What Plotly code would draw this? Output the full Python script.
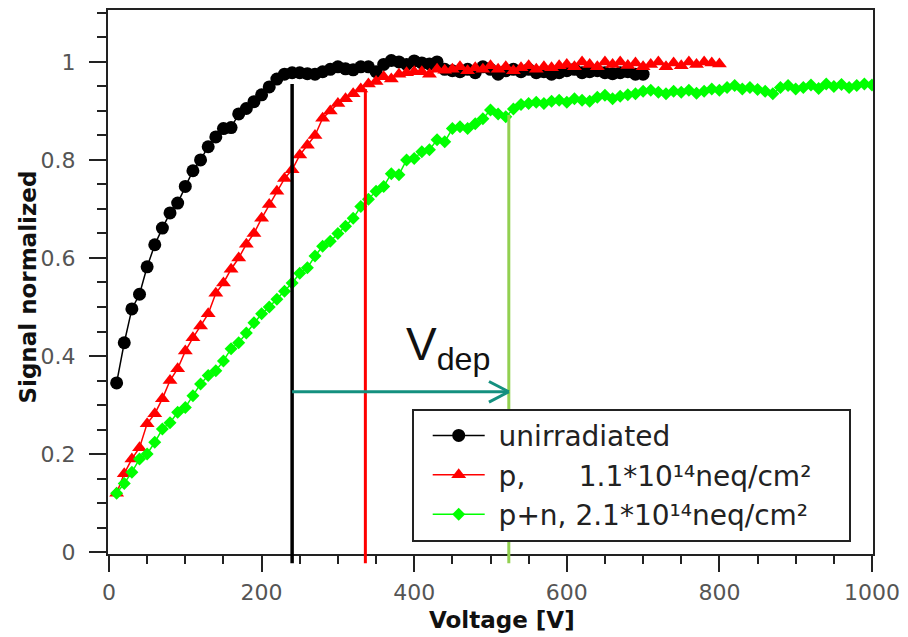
import plotly.graph_objects as go

# ---------------- data ----------------
volt_unirr = list(range(10, 701, 10))
sig_unirr = [0.345, 0.427, 0.496, 0.526, 0.582, 0.627, 0.661, 0.692, 0.712, 0.746,
             0.778, 0.800, 0.827, 0.847, 0.864, 0.866, 0.894, 0.905, 0.919, 0.933,
             0.949, 0.965, 0.975, 0.978, 0.978, 0.976, 0.975, 0.980, 0.985, 0.990,
             0.986, 0.984, 0.990, 0.990, 0.980, 0.995, 1.003, 1.000, 0.995, 1.002,
             0.998, 0.996, 1.000, 0.985, 0.982, 0.980, 0.985, 0.978, 0.990, 0.985,
             0.975, 0.982, 0.985, 0.980, 0.985, 0.978, 0.980, 0.975, 0.978, 0.982,
             0.985, 0.978, 0.980, 0.982, 0.978, 0.976, 0.978, 0.980, 0.975, 0.975]

volt_p = list(range(10, 801, 10))
sig_p = [0.120, 0.160, 0.190, 0.213, 0.262, 0.282, 0.313, 0.350, 0.374, 0.410,
         0.437, 0.461, 0.486, 0.528, 0.549, 0.577, 0.600, 0.628, 0.650, 0.681,
         0.709, 0.736, 0.762, 0.780, 0.810, 0.830, 0.850, 0.885, 0.900, 0.915,
         0.925, 0.935, 0.945, 0.955, 0.960, 0.970, 0.965, 0.975, 0.978, 0.980,
         0.980, 0.975, 0.985, 0.983, 0.985, 0.990, 0.982, 0.988, 0.985, 0.992,
         0.985, 0.990, 0.982, 0.988, 0.992, 0.985, 0.990, 0.988, 0.992, 0.995,
         0.990, 1.000, 0.995, 0.990, 1.000, 0.995, 1.000, 0.993, 0.998, 0.990,
         0.995, 1.000, 0.990, 0.998, 0.992, 1.000, 0.995, 1.000, 0.998, 0.996]

volt_pn = list(range(10, 1001, 10))
sig_pn = [0.120, 0.140, 0.163, 0.190, 0.200, 0.224, 0.251, 0.264, 0.285, 0.295,
          0.319, 0.343, 0.360, 0.370, 0.390, 0.415, 0.427, 0.447, 0.468, 0.486,
          0.500, 0.516, 0.532, 0.549, 0.569, 0.580, 0.604, 0.624, 0.634, 0.650,
          0.665, 0.681, 0.705, 0.720, 0.736, 0.746, 0.772, 0.770, 0.800, 0.803,
          0.817, 0.821, 0.841, 0.837, 0.864, 0.868, 0.864, 0.874, 0.884, 0.902,
          0.894, 0.888, 0.904, 0.913, 0.915, 0.918, 0.915, 0.920, 0.922, 0.918,
          0.925, 0.922, 0.920, 0.928, 0.932, 0.925, 0.930, 0.933, 0.935, 0.940,
          0.942, 0.938, 0.935, 0.940, 0.938, 0.942, 0.936, 0.940, 0.945, 0.942,
          0.948, 0.952, 0.945, 0.948, 0.944, 0.940, 0.935, 0.948, 0.952, 0.945,
          0.948, 0.953, 0.946, 0.955, 0.950, 0.954, 0.948, 0.952, 0.955, 0.953]

NB = "\u00a0"
series_names = [NB + "unirradiated",
                NB + "p," + NB * 6 + "1.1*10\u00b9\u2074neq/cm\u00b2",
                NB + "p+n, 2.1*10\u00b9\u2074neq/cm\u00b2" + NB * 4]

# depletion voltages [V] and heights of the marker lines
vdep_volts = [240, 336, 524]
vdep_tops = [0.955, 0.945, 0.892]
vdep_colors = ["#000000", "#ff0000", "#92d050"]
arrow_level = 0.327

x_range = [-1.3, 1001.3]
y_range = [-0.004, 1.106]

# ---------------- figure ----------------
fig = go.Figure()
fig.add_trace(go.Scatter(x=volt_unirr, y=sig_unirr, mode="lines+markers", name=series_names[0],
                         line=dict(color="black", width=1.5),
                         marker=dict(symbol="circle", size=13, color="black")))
fig.add_trace(go.Scatter(x=volt_p, y=sig_p, mode="lines+markers", name=series_names[1],
                         line=dict(color="#ff0000", width=1.5),
                         marker=dict(symbol="triangle-up", size=13, color="#ff0000")))
fig.add_trace(go.Scatter(x=volt_pn, y=sig_pn, mode="lines+markers", name=series_names[2],
                         line=dict(color="#00ff00", width=1.5),
                         marker=dict(symbol="diamond", size=10, color="#00ff00")))

def to_paper(v):
    return (v - y_range[0]) / (y_range[1] - y_range[0])

shapes = []
for v, top, c in zip(vdep_volts, vdep_tops, vdep_colors):
    shapes.append(dict(type="line", xref="x", yref="paper", x0=v, x1=v,
                       y0=-0.017, y1=to_paper(top),
                       line=dict(color=c, width=3.5 if c == "#000000" else 3)))
teal = "#14907f"
shapes.append(dict(type="line", xref="x", yref="y", x0=vdep_volts[0], x1=vdep_volts[2],
                   y0=arrow_level, y1=arrow_level, line=dict(color=teal, width=3)))
for dy in (0.021, -0.021):
    shapes.append(dict(type="line", xref="x", yref="y", x0=vdep_volts[2] - 26, x1=vdep_volts[2],
                       y0=arrow_level + dy, y1=arrow_level, line=dict(color=teal, width=3)))

axis_common = dict(showline=True, linecolor="#222", linewidth=2, mirror=True,
                   ticks="outside", tickcolor="#222", tickwidth=2, showgrid=False,
                   zeroline=False,
                   tickfont=dict(family="DejaVu Sans", size=22, color="#555"))

fig.update_layout(
    width=908, height=637,
    margin=dict(l=108, r=30, t=8, b=83),
    paper_bgcolor="white", plot_bgcolor="white",
    showlegend=True,
    shapes=shapes,
    xaxis=dict(range=x_range, tickvals=[0, 200, 400, 600, 800, 1000], ticklen=16,
               minor=dict(dtick=50, ticklen=8, tickwidth=2, tickcolor="#222", ticks="outside"),
               ticklabelstandoff=2, **axis_common),
    yaxis=dict(range=y_range, tickvals=[0, 0.2, 0.4, 0.6, 0.8, 1.0],
               ticktext=["0", "0.2", "0.4", "0.6", "0.8", "1"], ticklen=17,
               minor=dict(dtick=0.05, ticklen=9, tickwidth=2, tickcolor="#222", ticks="outside"),
               ticklabelstandoff=9, **axis_common),
    legend=dict(x=0.397, y=0.267, xanchor="left", yanchor="top",
                bgcolor="white", bordercolor="#222", borderwidth=2,
                font=dict(family="DejaVu Sans", size=28, color="#222"),
                itemwidth=52, indentation=14, tracegroupgap=0),
    annotations=[
        dict(text="<b>Voltage [V]</b>", xref="paper", yref="paper", x=0.5156, y=-0.121,
             xanchor="center", yanchor="middle",
             showarrow=False, font=dict(family="DejaVu Sans", size=23, color="#111")),
        dict(text="<b>Signal normalized</b>", xref="paper", yref="paper", x=-0.105, y=0.491,
             xanchor="center", yanchor="middle",
             textangle=-90, showarrow=False, font=dict(family="DejaVu Sans", size=23, color="#111")),
        dict(text="V<sub>dep</sub>", xref="x", yref="y", x=444, y=0.418, showarrow=False,
             font=dict(family="Liberation Sans Narrow, Liberation Sans", size=46, color="#111")),
    ],
)

fig.write_html("out.html")
